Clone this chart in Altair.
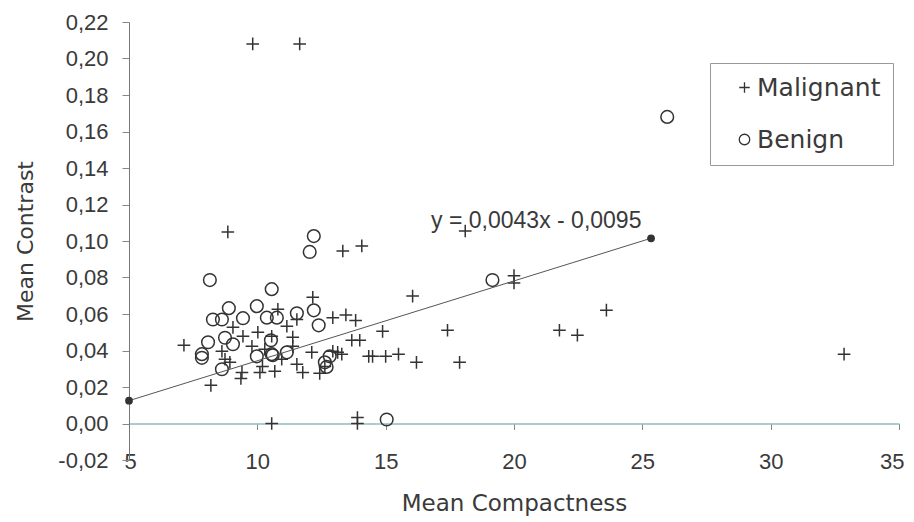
import altair as alt
import pandas as pd

# Malignant (+) points: (Mean Compactness, Mean Contrast)
mal_x = [9.82, 11.65, 8.85, 13.33, 14.07, 18.1, 20.0, 20.0, 16.05, 12.16,
         13.45, 13.83, 14.88, 17.41, 21.77, 22.47, 23.6, 13.68, 13.99,
         13.29, 14.34, 14.49, 15.0, 15.5, 16.2, 17.88, 32.86, 13.9, 13.9, 10.56,
         7.14, 8.19, 9.36, 12.94, 10.8, 11.54, 9.44, 10.02, 11.38,
         12.12, 12.94, 8.74, 8.93, 9.4, 10.1, 10.2, 10.68, 10.95, 11.38, 11.54,
         11.77, 12.43, 12.63, 13.13, 8.62, 9.79, 10.29, 9.05, 11.15, 10.56]
mal_y = [0.208, 0.208, 0.105, 0.0945, 0.0973, 0.1055, 0.081, 0.077, 0.0698, 0.0692,
         0.0595, 0.0565, 0.0505, 0.0511, 0.0511, 0.0484, 0.0621, 0.0456, 0.0456,
         0.038, 0.0368, 0.0368, 0.0368, 0.038, 0.0335, 0.0335, 0.038, 0.0033, 0.0, 0.0,
         0.0429, 0.0209, 0.0247, 0.058, 0.0626, 0.057, 0.0478, 0.05, 0.0473,
         0.039, 0.0396, 0.0352, 0.0335, 0.028, 0.028, 0.0313, 0.0286, 0.0352, 0.0423, 0.0324,
         0.028, 0.0275, 0.0313, 0.039, 0.0396, 0.0423, 0.0407, 0.0527, 0.0533, 0.0478]

# Benign (o) points
ben_x = [25.97, 19.16, 8.15, 10.56, 12.2, 12.04, 9.98, 8.89, 8.27, 8.62,
         9.44, 10.37, 10.76, 11.54, 12.2, 12.39, 8.74, 8.08, 7.84, 7.84,
         10.53, 10.56, 8.62, 9.05, 9.98, 10.6, 11.15, 12.63, 12.82, 12.7, 15.04]
ben_y = [0.168, 0.0786, 0.0786, 0.0736, 0.1027, 0.094, 0.0643, 0.0632, 0.057, 0.057,
         0.0577, 0.058, 0.058, 0.0604, 0.062, 0.0538, 0.047, 0.0445, 0.038, 0.036,
         0.0456, 0.038, 0.0297, 0.0434, 0.0368, 0.0374, 0.039, 0.0335, 0.0368, 0.031, 0.0022]

# Trend line endpoints
line_x = [5.0, 25.34]
line_y = [0.0125, 0.1015]

eq_text = "y = 0,0043x - 0,0095"
eq_x = [16.77]
eq_y = [0.111]

x_ticks = [5, 10, 15, 20, 25, 30, 35]
y_tick_count = 12

groups = ["Malignant", "Benign"]

pts = pd.DataFrame({
    "x": mal_x + ben_x,
    "y": mal_y + ben_y,
    "g": [groups[0]] * len(mal_x) + [groups[1]] * len(ben_x),
})
line_df = pd.DataFrame({"x": line_x, "y": line_y})
eq_df = pd.DataFrame({"x": eq_x, "y": eq_y, "t": [eq_text]})

W, H = 770, 438
FONT = "Liberation Sans"
TFONT = "DejaVu Sans"
TXT = "#3a3a3a"

xs = alt.Scale(domain=[5, 35], nice=False, zero=False)
ys = alt.Scale(domain=[-0.02, 0.22], nice=False, zero=False)

x_off = -H * 0.02 / 0.24

xenc = alt.X("x:Q", scale=xs, title="Mean Compactness",
             axis=alt.Axis(values=x_ticks, grid=False, offset=x_off,
                           domainColor="#8fbcbc", domainWidth=1.5,
                           tickColor="#888", tickSize=6,
                           labelPadding=22, labelFontSize=22, labelFont=FONT,
                           labelColor=TXT, titleFontSize=23, titleFont=TFONT,
                           titleColor=TXT, titleFontWeight="normal",
                           titlePadding=20, labelFlush=True, labelFlushOffset=5,
                           labelOverlap=False))
yenc = alt.Y("y:Q", scale=ys, title="Mean Contrast",
             axis=alt.Axis(tickCount=y_tick_count, grid=False,
                           labelExpr="replace(replace(format(datum.value, '.2f'), '.', ','), '\u2212', '-')",
                           domainColor="#777", tickColor="#888", tickSize=7,
                           labelPadding=14, labelFontSize=22, labelFont=FONT,
                           labelColor=TXT, titleFontSize=22, titleFont=TFONT,
                           titleColor=TXT, titleFontWeight="normal",
                           titlePadding=20, labelFlush=False, labelOverlap=False))

plus_path = "M-1,0L1,0M0,-1L0,1"

points = alt.Chart(pts).mark_point(filled=False, strokeWidth=1.5, opacity=1, color="#333").encode(
    x=xenc, y=yenc,
    shape=alt.Shape("g:N", scale=alt.Scale(domain=groups, range=[plus_path, "circle"]),
                    legend=alt.Legend(title=None, orient="none", legendX=581, legendY=41,
                                      strokeColor="#999", fillColor="white", padding=12,
                                      labelFontSize=25, labelFont=TFONT, labelColor=TXT,
                                      symbolSize=110, symbolStrokeWidth=1.3,
                                      symbolStrokeColor="#333", symbolOffset=10,
                                      rowPadding=26, labelOffset=0)),
    size=alt.value(160),
)

trend = alt.Chart(line_df).mark_line(color="#555", strokeWidth=1).encode(x="x:Q", y="y:Q")
ends = alt.Chart(line_df).mark_circle(color="#333", size=60, opacity=1).encode(x="x:Q", y="y:Q")
eq = alt.Chart(eq_df).mark_text(align="left", baseline="middle", fontSize=23, font=FONT,
                                color=TXT).encode(x="x:Q", y="y:Q", text="t:N")

chart = alt.layer(points, trend, ends, eq).properties(
    width=W, height=H,
    autosize=alt.AutoSizeParams(type="none"),
    padding={"left": 121, "top": 14, "right": 7, "bottom": 60},
).configure_view(stroke=None).configure_axisY(labelOverlap=False)

chart.save("out.html", embed_options={"renderer": "svg", "actions": False})
